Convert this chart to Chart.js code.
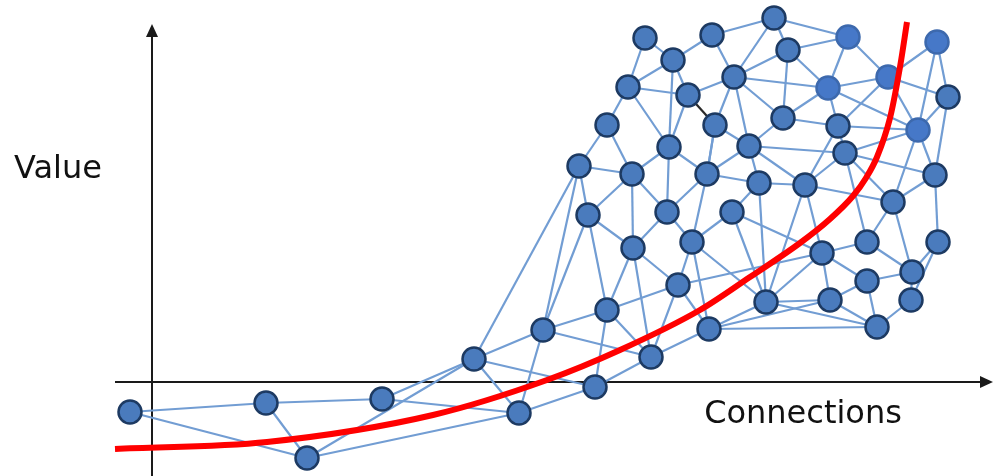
<!DOCTYPE html>
<html>
<head>
<meta charset="utf-8">
<script src="https://cdn.jsdelivr.net/npm/chart.js@4.4.1/dist/chart.umd.min.js"></script>
<style>
html,body{margin:0;padding:0;background:#fff;}
#wrap{width:1000px;height:476px;position:relative;}
</style>
</head>
<body>
<div id="wrap"><canvas id="netChart"></canvas></div>
<script>
// Axis labels
const xLabel = "Connections";
const yLabel = "Value";

// Nodes (x = connections, y = value, axes cross at 0,0)
const nodeX = [-22,114,230,155,322,367,391,443,455,499,557,526,481,427,436,480,455,476,493,521,
               536,560,563,517,515,540,555,597,582,622,636,631,607,580,614,653,686,676,696,736,
               785,796,766,693,741,783,670,715,786,715,760,678,759,725];
const nodeY = [-30,-21,-17,-76,23,-31,52,-5,72,25,53,97,134,216,167,208,257,295,344,322,
               287,347,257,235,170,140,208,236,305,364,332,264,199,170,80,197,256,294,345,305,
               340,285,252,229,180,207,129,140,140,101,110,82,82,55];
// brighter nodes top right
const brightNodes = [37,38,39,40,42];

// Links between nodes (index pairs)
const edges = [
  [0,1],[0,3],[1,2],[1,3],[2,4],[2,5],[3,4],[3,5],[4,5],[4,6],[4,7],[4,13],[5,6],[5,7],
  [6,8],[6,9],[6,13],[6,14],[7,8],[7,9],[8,9],[8,11],[8,14],[8,12],[9,11],[9,12],[9,10],
  [10,11],[10,34],[10,51],[10,53],[10,25],
  [13,15],[13,14],[13,16],[15,16],[15,23],[15,14],[15,12],[15,24],[14,12],[12,24],[12,11],
  [23,24],[23,26],[26,24],[26,25],[26,27],[26,32],[26,22],[24,25],[25,33],[25,11],[25,34],
  [11,46],[33,32],[33,46],[33,34],[34,32],[34,35],[34,46],[34,51],[34,53],
  [18,19],[18,17],[19,21],[21,29],[19,17],[19,20],[19,23],[21,28],[17,20],[17,16],[17,23],
  [20,28],[20,23],[28,29],[28,30],[28,22],[28,27],[28,31],[28,37],[22,27],[22,26],
  [29,38],[29,30],[30,38],[30,37],[30,31],[38,37],[38,39],[39,40],[39,41],[39,37],[39,42],
  [39,36],[40,42],[40,41],[41,42],[37,36],[37,42],[37,31],[31,36],[31,27],[36,42],[36,43],
  [43,42],[27,43],[27,32],[27,35],[32,35],[43,35],[35,36],[43,44],[43,45],[42,44],[42,45],
  [41,45],[45,48],[45,44],[35,44],[35,46],[44,47],[44,50],[43,47],[47,46],[47,50],[48,50],
  [48,52],[46,49],[46,51],[49,50],[49,51],[49,53],[51,53],[53,52],[52,50]
];
// the one dark link
const darkEdge = [20,22];

// Red trend curve
const curveX = [-37,115,281,395,468,548,598,648,678,701,714,725,738,748,755];
const curveY = [-67,-60,-33,2,32,72,105,139,163,186,204,225,264,315,360];

// Axis extents (value units)
const xAxisRange = [-37, 841];
const yAxisRange = [-94, 358];

const edgeSets = edges.map(e => ({
    type:'line',
    data:[{x:nodeX[e[0]],y:nodeY[e[0]]},{x:nodeX[e[1]],y:nodeY[e[1]]}],
    borderColor:'#729dd3',
    borderWidth:2.2,
    pointRadius:0,
    order:3,
    clip:false
}));
edgeSets.push({
    type:'line',
    data:darkEdge.map(i => ({x:nodeX[i],y:nodeY[i]})),
    borderColor:'#2a2a2a',
    borderWidth:2.2,
    pointRadius:0,
    order:2,
    clip:false
});

const nodeSet = {
    type:'scatter',
    data:nodeX.map((x,i) => ({x:x,y:nodeY[i]})),
    pointRadius:11.5,
    pointHoverRadius:11.5,
    backgroundColor:nodeX.map((x,i) => brightNodes.includes(i) ? '#4678c8' : '#4a7bbd'),
    borderColor:nodeX.map((x,i) => brightNodes.includes(i) ? '#3d69ad' : '#1d3a62'),
    borderWidth:2.5,
    order:1,
    clip:false
};

const curveSet = {
    type:'line',
    data:curveX.map((x,i) => ({x:x,y:curveY[i]})),
    borderColor:'#ff0000',
    borderWidth:6,
    pointRadius:0,
    cubicInterpolationMode:'monotone',
    order:0,
    clip:false
};

// axes with arrows + labels
const axesPlugin = {
    id:'axesArrows',
    beforeDatasetsDraw(chart){
        const {ctx, scales:{x, y}} = chart;
        const x0 = x.getPixelForValue(0), y0 = y.getPixelForValue(0);
        ctx.save();
        ctx.strokeStyle = '#1a1a1a';
        ctx.fillStyle = '#1a1a1a';
        ctx.lineWidth = 2;
        // horizontal
        const xa = x.getPixelForValue(xAxisRange[0]), xb = x.getPixelForValue(xAxisRange[1]);
        ctx.beginPath(); ctx.moveTo(xa, y0); ctx.lineTo(xb - 8, y0); ctx.stroke();
        ctx.beginPath(); ctx.moveTo(xb, y0); ctx.lineTo(xb - 13, y0 - 6); ctx.lineTo(xb - 13, y0 + 6); ctx.closePath(); ctx.fill();
        // vertical
        const ya = y.getPixelForValue(yAxisRange[0]), yb = y.getPixelForValue(yAxisRange[1]);
        ctx.beginPath(); ctx.moveTo(x0, ya); ctx.lineTo(x0, yb + 8); ctx.stroke();
        ctx.beginPath(); ctx.moveTo(x0, yb); ctx.lineTo(x0 - 6, yb + 13); ctx.lineTo(x0 + 6, yb + 13); ctx.closePath(); ctx.fill();
        ctx.restore();
    },
    afterDraw(chart){
        const {ctx, scales:{x, y}} = chart;
        ctx.save();
        ctx.fillStyle = '#111';
        ctx.font = '32px "DejaVu Sans"';
        ctx.textAlign = 'center';
        ctx.textBaseline = 'middle';
        ctx.fillText(yLabel, x.getPixelForValue(-94), y.getPixelForValue(212));
        ctx.fillText(xLabel, x.getPixelForValue(651), y.getPixelForValue(-33));
        ctx.restore();
    }
};

new Chart(document.getElementById('netChart'), {
    type:'line',
    data:{datasets:[curveSet, nodeSet, ...edgeSets]},
    options:{
        responsive:true,
        maintainAspectRatio:false,
        animation:false,
        layout:{padding:0, autoPadding:false},
        plugins:{legend:{display:false}, tooltip:{enabled:false}},
        scales:{
            x:{type:'linear', min:-152, max:848, display:false},
            y:{type:'linear', min:-94, max:382, display:false}
        }
    },
    plugins:[axesPlugin]
});
</script>
</body>
</html>
